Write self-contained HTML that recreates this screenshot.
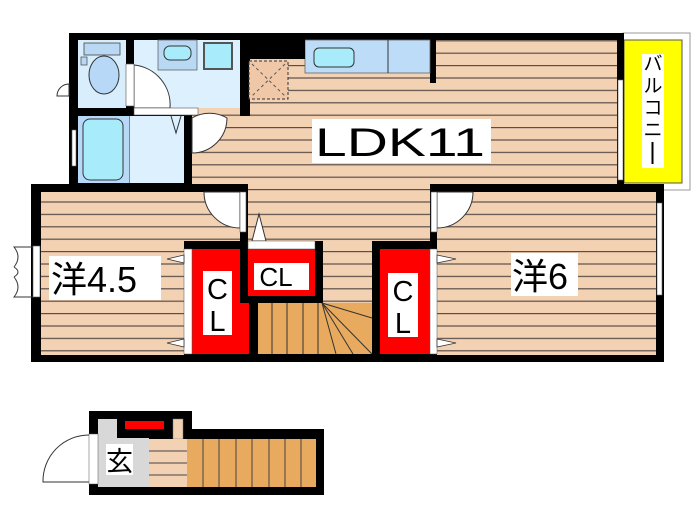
<!DOCTYPE html>
<html><head><meta charset="utf-8"><style>
html,body{margin:0;padding:0;background:#fff;}
svg{display:block}
text{font-family:"Liberation Sans","Noto Sans CJK JP",sans-serif;fill:#000}
</style></head><body>
<svg width="700" height="525" viewBox="0 0 700 525" xmlns="http://www.w3.org/2000/svg">
<defs>
<pattern id="fl" width="10" height="12.4" patternUnits="userSpaceOnUse" y="3">
<rect width="10" height="12.4" fill="#f3d2b4"/>
<rect y="0" width="10" height="1.2" fill="#5a4e48"/>
</pattern>
</defs>
<!-- balcony -->
<rect x="623" y="33" width="67" height="157" fill="#fff" stroke="#999" stroke-width="1"/>
<rect x="624" y="40" width="58" height="143" fill="#ffff00" stroke="#555" stroke-width="1"/>
<rect x="642" y="54" width="22" height="114" fill="#fff"/>
<text x="653" y="70" font-size="19" text-anchor="middle">バ</text>
<text x="653" y="92" font-size="19" text-anchor="middle">ル</text>
<text x="653" y="114" font-size="19" text-anchor="middle">コ</text>
<text x="653" y="136" font-size="19" text-anchor="middle">ニ</text>
<rect x="651.5" y="142" width="2" height="22" fill="#000"/>

<!-- main black outline -->
<rect x="69" y="33" width="555" height="158" fill="#000"/>
<rect x="31" y="184" width="633" height="178" fill="#000"/>

<!-- LDK floor -->
<rect x="192" y="40" width="425" height="144" fill="url(#fl)"/>
<rect x="248" y="59" width="182" height="60" fill="url(#fl)"/>
<rect x="248" y="184" width="182" height="120" fill="url(#fl)"/>
<rect x="240" y="59" width="10" height="57" fill="#000"/>
<rect x="192" y="116" width="56" height="2" fill="url(#fl)"/>
<rect x="430" y="33" width="6" height="50" fill="#000"/>
<rect x="305" y="40" width="125" height="33" fill="#bcdcf8" stroke="#666" stroke-width="0.8"/>
<line x1="388" y1="40" x2="388" y2="73" stroke="#333" stroke-width="1"/>
<rect x="314" y="48" width="40" height="19" rx="5" fill="#a8ecfb" stroke="#333" stroke-width="1"/>
<rect x="249" y="61" width="39" height="38" fill="#f0c8a8" stroke="#333" stroke-width="1" stroke-dasharray="3,2"/>
<path d="M252 64 L285 96 M285 64 L252 96" stroke="#555" stroke-dasharray="3,3" stroke-width="1"/>
<rect x="240" y="33" width="65" height="26" fill="#000"/>

<!-- toilet -->
<rect x="78" y="40" width="48" height="68" fill="#d8eefc"/>
<rect x="84" y="43" width="36" height="12" fill="#b8d8f4" stroke="#444" stroke-width="0.8"/>
<ellipse cx="104" cy="75" rx="15" ry="19" fill="#b8d8f8" stroke="#333" stroke-width="1"/>
<rect x="81" y="57" width="6" height="8" fill="#b8d8f4" stroke="#444" stroke-width="0.7"/>
<!-- washroom -->
<rect x="134" y="40" width="106" height="68" fill="#dcf0fd"/>
<rect x="158" y="40" width="39" height="30" fill="#b8d8f4" stroke="#555" stroke-width="0.7"/>
<rect x="164" y="46" width="27" height="14" rx="6" fill="#a8ecfb" stroke="#333" stroke-width="1"/>
<rect x="204" y="43" width="28" height="26" fill="#a8ecfb" stroke="#555" stroke-width="2"/>
<path d="M134 65 A40 40 0 0 1 170 108 L134 108 Z" fill="#fff" stroke="#333" stroke-width="1"/>
<rect x="126" y="64" width="8" height="42" fill="#fff" stroke="#555" stroke-width="0.6"/>
<rect x="134" y="108" width="64" height="7" fill="#fff" stroke="#555" stroke-width="0.6"/>
<!-- bath -->
<rect x="78" y="116" width="52" height="67" fill="#b8d8f8"/>
<rect x="83" y="119" width="40" height="61" rx="7" fill="#a8ecfb" stroke="#333" stroke-width="1"/>
<line x1="130" y1="116" x2="130" y2="183" stroke="#333" stroke-width="1"/>
<rect x="130" y="116" width="54" height="67" fill="#dcf0fd"/>
<path d="M171 116 L176 133 L181 116" fill="none" stroke="#333" stroke-width="1"/>
<path d="M192 118 A35 35 0 0 1 227 118 A35 35 0 0 1 192 153 Z" fill="#fff" stroke="#333" stroke-width="1"/>
<path d="M69 84 A12 12 0 0 0 57 96 L69 96 Z" fill="#fff" stroke="#333" stroke-width="1"/>
<rect x="72" y="130" width="4" height="36" fill="#fff" stroke="#666" stroke-width="0.6"/>
<rect x="618" y="80" width="5" height="100" fill="#fff" stroke="#666" stroke-width="0.6"/>

<!-- 4.5 room -->
<rect x="41" y="192" width="143" height="163" fill="url(#fl)"/>
<rect x="184" y="192" width="56" height="50" fill="url(#fl)"/>
<path d="M240 192 L204 192 A36 36 0 0 0 240 228 Z" fill="#fff" stroke="#333" stroke-width="1"/>
<rect x="240" y="192" width="6" height="40" fill="#fff" stroke="#555" stroke-width="0.6"/>
<path d="M34 247 L14 247 Q22 257 14 267 M34 297 L14 297 Q22 287 14 277 M14 267 Q22 272 14 277" fill="none" stroke="#333" stroke-width="1"/>
<rect x="33" y="246" width="7" height="51" fill="#fff" stroke="#555" stroke-width="0.6"/>
<!-- 6 room -->
<rect x="437" y="192" width="219" height="163" fill="url(#fl)"/>
<path d="M437 192 L473 192 A36 36 0 0 1 437 228 Z" fill="#fff" stroke="#333" stroke-width="1"/>
<rect x="431" y="192" width="6" height="40" fill="#fff" stroke="#555" stroke-width="0.6"/>
<rect x="657" y="203" width="5" height="92" fill="#fff" stroke="#666" stroke-width="0.6"/>

<path d="M252 241 L259 214 L266 241 Z" fill="#fff" stroke="#333" stroke-width="1"/>

<!-- CL1 -->
<rect x="184" y="241" width="66" height="121" fill="#000"/>
<rect x="192" y="249" width="57" height="105" fill="#f00"/>
<rect x="184" y="249" width="8" height="105" fill="#fff" stroke="#555" stroke-width="0.5"/>
<path d="M184 255 L167 259 L184 263 Z M184 339 L167 343 L184 347 Z" fill="#fff" stroke="#333" stroke-width="0.8"/>
<rect x="203" y="271" width="29" height="64" fill="#fff"/>
<text x="217.5" y="299" font-size="29" text-anchor="middle">C</text>
<text x="217.5" y="331" font-size="29" text-anchor="middle">L</text>
<!-- CL2 -->
<rect x="240" y="241" width="83" height="62" fill="#000"/>
<rect x="248" y="241" width="67" height="8" fill="#fff" stroke="#555" stroke-width="0.5"/>
<rect x="248" y="249" width="67" height="47" fill="#f00"/>
<rect x="254" y="263" width="55" height="27" fill="#fff"/>
<text x="276" y="286" font-size="26" text-anchor="middle">CL</text>
<!-- stairs -->
<rect x="250" y="303" width="122" height="59" fill="#000"/>
<rect x="258" y="303" width="114" height="51" fill="#e8aa5e"/>
<g stroke="#333" stroke-width="1">
<line x1="272" y1="303" x2="272" y2="354"/><line x1="287" y1="303" x2="287" y2="354"/>
<line x1="303" y1="303" x2="303" y2="354"/><line x1="318" y1="303" x2="318" y2="354"/>
<line x1="322" y1="303" x2="336" y2="354"/><line x1="322" y1="303" x2="353" y2="354"/>
<line x1="322" y1="303" x2="372" y2="354"/><line x1="322" y1="303" x2="372" y2="318"/>
</g>
<!-- CL3 -->
<rect x="372" y="241" width="65" height="121" fill="#000"/>
<rect x="380" y="249" width="50" height="105" fill="#f00"/>
<rect x="430" y="249" width="7" height="105" fill="#fff" stroke="#555" stroke-width="0.5"/>
<path d="M437 255 L456 259 L437 263 Z M437 339 L456 343 L437 347 Z" fill="#fff" stroke="#333" stroke-width="0.8"/>
<rect x="388" y="273" width="30" height="64" fill="#fff"/>
<text x="403" y="301" font-size="29" text-anchor="middle">C</text>
<text x="403" y="333" font-size="29" text-anchor="middle">L</text>

<!-- labels -->
<rect x="312" y="119" width="179" height="44" fill="#fff"/>
<text x="315" y="156" font-size="40" textLength="170" lengthAdjust="spacingAndGlyphs">LDK11</text>
<rect x="49" y="256" width="112" height="44" fill="#fff"/>
<text x="51" y="292" font-size="36">洋4.5</text>
<rect x="511" y="253" width="67" height="43" fill="#fff"/>
<text x="512" y="289" font-size="36">洋6</text>

<!-- entrance -->
<rect x="89" y="411" width="103" height="24" fill="#000"/>
<rect x="89" y="429" width="235" height="66" fill="#000"/>
<rect x="98" y="419" width="51" height="68" fill="#d8d8d8"/>
<rect x="117" y="419" width="56" height="19" fill="#000"/>
<rect x="125" y="421" width="39" height="8" fill="#f00"/>
<rect x="173" y="419" width="10" height="20" fill="#f3d2b4" stroke="#777" stroke-width="0.5"/>
<rect x="149" y="439" width="38" height="48" fill="#f3d2b4"/>
<g stroke="#444" stroke-width="1"><line x1="149" y1="451" x2="187" y2="451"/><line x1="149" y1="463" x2="187" y2="463"/><line x1="149" y1="475" x2="187" y2="475"/></g>
<rect x="187" y="439" width="129" height="48" fill="#e8aa5e"/>
<g stroke="#444" stroke-width="1">
<line x1="203" y1="439" x2="203" y2="487"/><line x1="219" y1="439" x2="219" y2="487"/><line x1="236" y1="439" x2="236" y2="487"/><line x1="252" y1="439" x2="252" y2="487"/><line x1="269" y1="439" x2="269" y2="487"/><line x1="285" y1="439" x2="285" y2="487"/><line x1="301" y1="439" x2="301" y2="487"/>
</g>
<rect x="106" y="444" width="27" height="31" fill="#fff"/>
<text x="119.5" y="471" font-size="27" text-anchor="middle">玄</text>
<path d="M89 435 A46 46 0 0 0 43 482 L89 482" fill="#fff" stroke="#333" stroke-width="1"/>
<rect x="89" y="434" width="9" height="50" fill="#fff" stroke="#555" stroke-width="0.5"/>
</svg>
</body></html>
